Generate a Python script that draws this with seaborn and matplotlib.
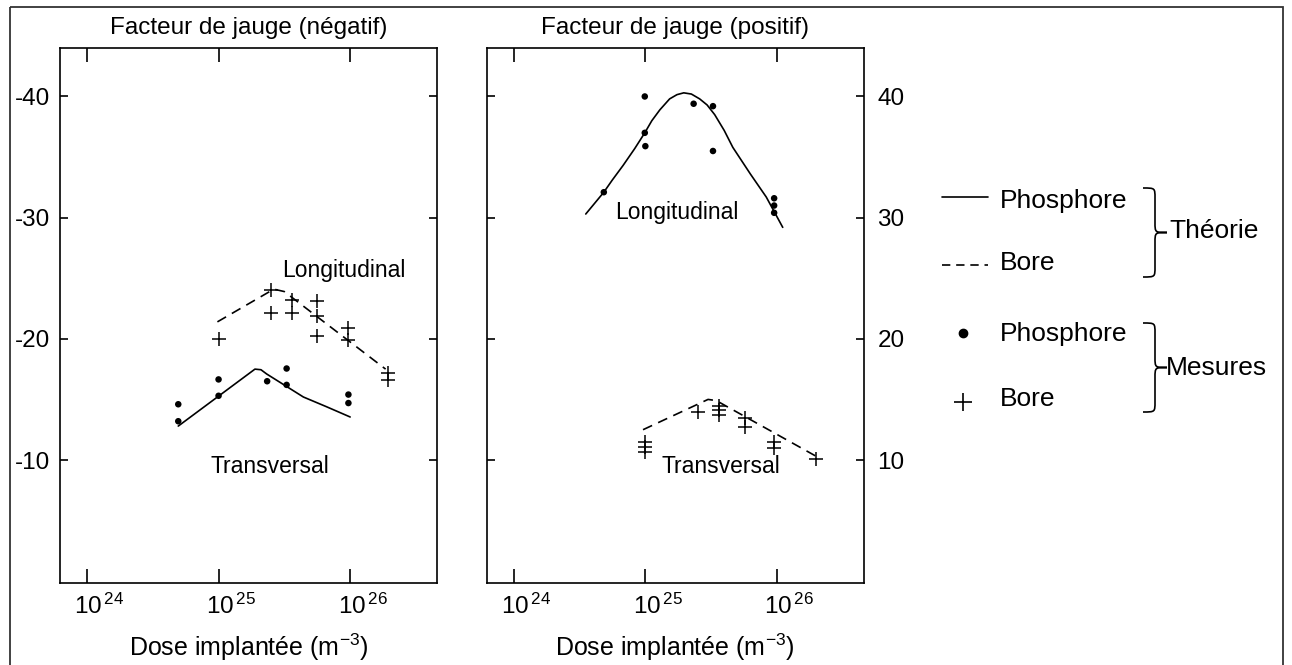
import numpy as np
import pandas as pd
import seaborn as sns
import matplotlib.pyplot as plt
import matplotlib.transforms as mtransforms
from matplotlib.path import Path
from matplotlib.patches import PathPatch, Rectangle

sns.set_theme(style="white")
plt.rcParams['font.family'] = ['Liberation Sans', 'DejaVu Sans']
plt.rcParams['mathtext.default'] = 'regular'
plt.rcParams['axes.unicode_minus'] = False
plt.rcParams['text.color'] = 'black'
plt.rcParams['axes.labelcolor'] = 'black'
plt.rcParams['xtick.color'] = 'black'
plt.rcParams['ytick.color'] = 'black'

# --- panneau gauche : facteur de jauge negatif ---
# theorie bore (longitudinal), tirets
neg_bore_th_dose = [9.8e24, 2.63e25, 3.16e25, 1.86e26]
neg_bore_th_val = [-21.4, -24.1, -23.9, -17.5]
# mesures bore (+)
neg_bore_dose = [1.0e25, 2.5e25, 2.5e25, 3.6e25, 3.6e25, 5.6e25, 5.6e25, 5.6e25,
                 9.6e25, 9.6e25, 1.95e26, 1.95e26]
neg_bore_val = [-20.0, -24.0, -22.1, -23.2, -22.1, -23.1, -21.9, -20.2,
                -20.9, -19.9, -17.2, -16.6]
# theorie phosphore (transversal), trait plein
neg_phos_th_dose = [4.94e24, 1.89e25, 2.1e25, 2.32e25, 4.41e25, 6.6e25, 1.0e26]
neg_phos_th_val = [-12.8, -17.5, -17.45, -17.1, -15.2, -14.4, -13.55]
# mesures phosphore (points)
neg_phos_dose = [4.94e24, 4.94e24, 1.0e25, 1.0e25, 2.34e25, 3.29e25, 3.29e25, 9.7e25, 9.7e25]
neg_phos_val = [-14.6, -13.2, -16.65, -15.3, -16.5, -17.55, -16.2, -15.4, -14.7]

# --- panneau droit : facteur de jauge positif ---
# theorie phosphore (longitudinal)
pos_phos_th_dose = [3.52e24, 4.83e24, 5.6e24, 6.76e24, 8.3e24, 9.9e24, 1.12e25, 1.29e25,
                    1.53e25, 1.74e25, 1.96e25, 2.24e25, 2.59e25, 2.95e25, 3.37e25,
                    3.98e25, 4.63e25, 6.3e25, 8.32e25, 1.11e26]
pos_phos_th_val = [30.3, 32.1, 33.1, 34.3, 35.7, 37.0, 38.0, 38.9,
                   39.8, 40.15, 40.3, 40.2, 39.8, 39.3, 38.5,
                   37.2, 35.8, 33.6, 31.7, 29.2]
# mesures phosphore
pos_phos_dose = [4.83e24, 9.9e24, 9.9e24, 1.0e25, 2.33e25, 3.27e25, 3.27e25,
                 9.55e25, 9.55e25, 9.55e25]
pos_phos_val = [32.1, 40.0, 37.0, 35.9, 39.4, 39.2, 35.5, 31.6, 31.0, 30.4]
# theorie bore (transversal)
pos_bore_th_dose = [9.6e24, 3.0e25, 3.47e25, 2.0e26]
pos_bore_th_val = [12.5, 15.0, 14.9, 10.3]
# mesures bore
pos_bore_dose = [9.9e24, 9.9e24, 9.9e24, 2.5e25, 3.63e25, 3.63e25, 3.63e25,
                 5.7e25, 5.7e25, 9.55e25, 9.55e25, 2.0e26]
pos_bore_val = [11.5, 11.1, 10.7, 14.0, 14.45, 14.1, 13.7, 13.5, 12.7, 11.5, 10.95, 10.1]

xticks = [1e24, 1e25, 1e26]
xtick_labels = ['10$^{\\,24}$', '10$^{\\,25}$', '10$^{\\,26}$']

W, H = 1292, 665
fig = plt.figure(figsize=(W / 100, H / 100), dpi=100)

# calque pour cadre et legende (coordonnees pixels)
lax = fig.add_axes([0, 0, 1, 1])
lax.set_xlim(0, W)
lax.set_ylim(H, 0)
lax.axis('off')

ax1 = fig.add_axes([60 / W, 82 / H, 377 / W, 535 / H])
ax2 = fig.add_axes([487 / W, 82 / H, 376.5 / W, 535 / H])

lw = 1.2
solid_kw = dict(color='black', linewidth=lw, estimator=None, sort=False)
dash_kw = dict(color='black', linewidth=lw, estimator=None, sort=False, linestyle=(0, (6, 4)))
dot_kw = dict(color='black', marker='o', s=22, edgecolor='none')
plus_kw = dict(color='black', marker='+', s=90, linewidth=1.1)

sns.lineplot(x=neg_bore_th_dose, y=neg_bore_th_val, ax=ax1, **dash_kw)
sns.scatterplot(x=neg_bore_dose, y=neg_bore_val, ax=ax1, **plus_kw)
sns.lineplot(x=neg_phos_th_dose, y=neg_phos_th_val, ax=ax1, **solid_kw)
sns.scatterplot(x=neg_phos_dose, y=neg_phos_val, ax=ax1, **dot_kw)

sns.lineplot(x=pos_phos_th_dose, y=pos_phos_th_val, ax=ax2, **solid_kw)
sns.scatterplot(x=pos_phos_dose, y=pos_phos_val, ax=ax2, **dot_kw)
sns.lineplot(x=pos_bore_th_dose, y=pos_bore_th_val, ax=ax2, **dash_kw)
sns.scatterplot(x=pos_bore_dose, y=pos_bore_val, ax=ax2, **plus_kw)

offset = mtransforms.ScaledTranslation(-12.5 / 100, 0, fig.dpi_scale_trans)
for ax in (ax1, ax2):
    ax.set_xscale('log')
    ax.set_xlim(10 ** 23.795, 10 ** 26.66)
    ax.set_xticks(xticks, labels=xtick_labels)
    ax.xaxis.set_minor_locator(plt.NullLocator())
    ax.tick_params(axis='x', direction='in', length=10, width=lw, top=True, bottom=True,
                   pad=8, labelsize=17.5, colors='black')
    ax.tick_params(axis='y', direction='in', length=6, width=lw, left=True, right=True,
                   labelsize=17.5, colors='black')
    for s in ax.spines.values():
        s.set_color('black')
        s.set_linewidth(lw)
    ax.set_xlabel('Dose implantée (m$^{-3}$)', fontsize=18, labelpad=9, color='black')
    ax.set_ylabel('')
    for lab in ax.get_xticklabels():
        lab.set_horizontalalignment('left')
        lab.set_transform(lab.get_transform() + offset)

ax1.set_ylim(0.15, -44)
ax1.set_yticks([-40, -30, -20, -10])
ax1.tick_params(axis='y', pad=7)
ax1.set_title('Facteur de jauge (négatif)', fontsize=17.5, pad=10, color='black')
ax1.text(10 ** 25.953, -25.66, 'Longitudinal', ha='center', va='center', fontsize=16.5)
ax1.text(10 ** 25.39, -9.5, 'Transversal', ha='center', va='center', fontsize=16.5)

ax2.set_ylim(-0.15, 44)
ax2.set_yticks([40, 30, 20, 10])
ax2.tick_params(axis='y', labelleft=False, labelright=True, pad=10)
ax2.set_title('Facteur de jauge (positif)', fontsize=17.5, pad=10, color='black')
ax2.text(10 ** 25.242, 30.46, 'Longitudinal', ha='center', va='center', fontsize=16.5)
ax2.text(10 ** 25.571, 9.44, 'Transversal', ha='center', va='center', fontsize=16.5)

# cadre
lax.add_patch(Rectangle((10, 7), 1273, 700, fill=False, linewidth=1.3, edgecolor='#333333',
                        clip_on=False))

# legende
lax.plot([942, 988], [197, 197], color='black', linewidth=lw)
lax.plot([942, 988], [265, 265], color='black', linewidth=lw, linestyle=(0, (5, 3.5)))
lax.plot([963], [333], marker='o', markersize=6, color='black', linestyle='none')
lax.plot([963], [401.5], marker='+', markersize=13, markeredgewidth=1.2, color='black',
         linestyle='none')
leg_fs = 19
lax.text(1000, 208, 'Phosphore', fontsize=leg_fs, va='baseline')
lax.text(1000, 270, 'Bore', fontsize=leg_fs, va='baseline')
lax.text(1000, 341.5, 'Phosphore', fontsize=leg_fs, va='baseline')
lax.text(1000, 406.5, 'Bore', fontsize=leg_fs, va='baseline')
lax.text(1169, 238, 'Théorie', fontsize=leg_fs, va='baseline')
lax.text(1166, 375, 'Mesures', fontsize=leg_fs, va='baseline')


def brace(ax, x0, x1, ytop, ybot, r=10):
    xm = (x0 + x1) / 2
    ym = (ytop + ybot) / 2
    verts = [(x0, ytop), (xm, ytop), (xm, ytop), (xm, ytop + r),
             (xm, ym - r),
             (xm, ym), (xm, ym), (x1, ym),
             (xm, ym), (xm, ym), (xm, ym + r),
             (xm, ybot - r),
             (xm, ybot), (xm, ybot), (x0, ybot)]
    codes = [Path.MOVETO, Path.CURVE4, Path.CURVE4, Path.CURVE4,
             Path.LINETO,
             Path.CURVE4, Path.CURVE4, Path.CURVE4,
             Path.CURVE4, Path.CURVE4, Path.CURVE4,
             Path.LINETO,
             Path.CURVE4, Path.CURVE4, Path.CURVE4]
    ax.add_patch(PathPatch(Path(verts, codes), fill=False, edgecolor='black', linewidth=lw))


brace(lax, 1143, 1167, 188, 277)
brace(lax, 1143, 1167, 323, 412)

fig.savefig('out.png', dpi=100)
